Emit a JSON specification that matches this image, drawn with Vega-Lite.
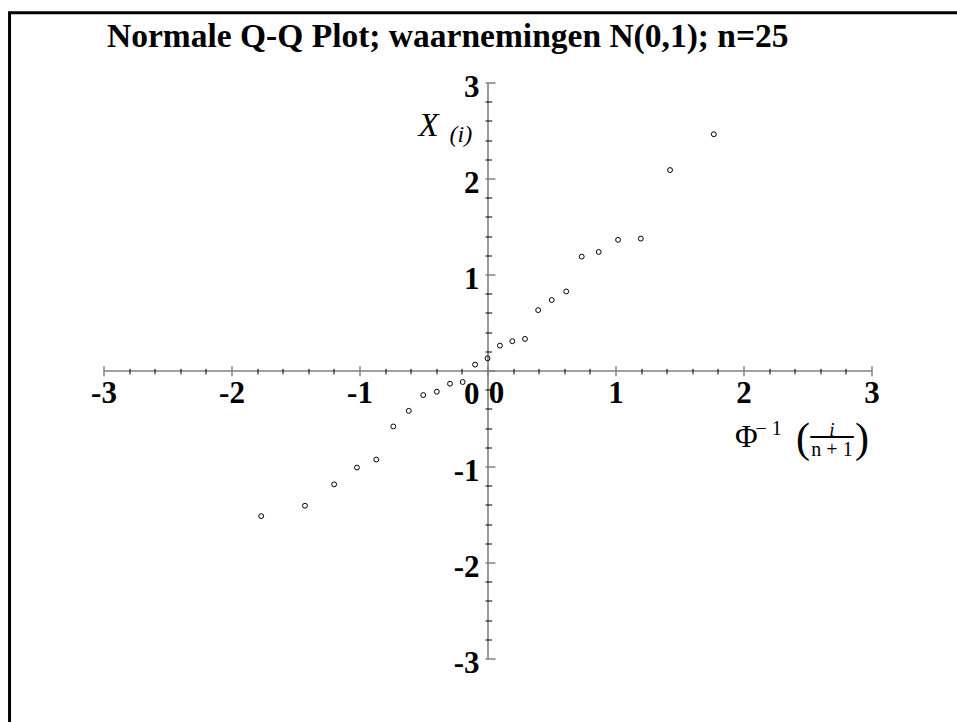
{
  "$schema": "https://vega.github.io/schema/vega-lite/v6.json",
  "width": 768,
  "height": 576,
  "autosize": {"type": "none"},
  "padding": {"left": 103.5, "top": 82.5, "right": 85.5, "bottom": 63.5},
  "background": "white",
  "title": {
    "text": "Normale Q-Q Plot; waarnemingen N(0,1); n=25",
    "font": "Liberation Serif",
    "fontSize": 33.5,
    "fontWeight": "bold",
    "color": "black",
    "anchor": "start",
    "frame": "group",
    "baseline": "alphabetic",
    "offset": 0,
    "dx": 3.5,
    "dy": 69.5
  },
  "config": {"view": {"stroke": null}, "axis": {"grid": false}},
  "data": {
    "values": [
      {"q": -1.768, "x": -1.517},
      {"q": -1.426, "x": -1.409},
      {"q": -1.198, "x": -1.186},
      {"q": -1.020, "x": -1.011},
      {"q": -0.869, "x": -0.928},
      {"q": -0.736, "x": -0.583},
      {"q": -0.615, "x": -0.420},
      {"q": -0.502, "x": -0.256},
      {"q": -0.396, "x": -0.221},
      {"q": -0.293, "x": -0.138},
      {"q": -0.194, "x": -0.120},
      {"q": -0.097, "x": 0.061},
      {"q": 0.0, "x": 0.127},
      {"q": 0.097, "x": 0.259},
      {"q": 0.194, "x": 0.305},
      {"q": 0.293, "x": 0.329},
      {"q": 0.396, "x": 0.629},
      {"q": 0.502, "x": 0.734},
      {"q": 0.615, "x": 0.823},
      {"q": 0.736, "x": 1.186},
      {"q": 0.869, "x": 1.235},
      {"q": 1.020, "x": 1.361},
      {"q": 1.198, "x": 1.374},
      {"q": 1.426, "x": 2.088},
      {"q": 1.768, "x": 2.461}
    ]
  },
  "resolve": {"axis": {"x": "independent", "y": "independent"}},
  "layer": [
    {
      "data": {"values": [{}]},
      "mark": {"type": "rect", "filled": false, "stroke": "black", "strokeWidth": 3},
      "encoding": {
        "x": {"datum": -3.734, "type": "quantitative", "scale": {"domain": [-3, 3], "nice": false, "zero": false},
          "axis": {"orient": "bottom", "offset": -288, "domain": false, "ticks": false, "labels": false, "grid": false,
            "title": ")", "titleFont": "Liberation Serif", "titleFontSize": 42, "titleFontWeight": "normal", "titleColor": "black",
            "titleAlign": "left", "titleBaseline": "alphabetic", "titleAngle": 0, "titleX": 751, "titleY": 80.5}},
        "x2": {"datum": 6},
        "y": {"datum": 3.726, "type": "quantitative", "scale": {"domain": [-3, 3], "nice": false, "zero": false}, "axis": null},
        "y2": {"datum": -6}
      }
    },
    {
      "mark": {"type": "point", "shape": "circle", "filled": false, "stroke": "black", "strokeWidth": 1, "size": 24, "opacity": 1},
      "encoding": {
        "x": {"field": "q", "type": "quantitative", "scale": {"domain": [-3, 3], "nice": false, "zero": false},
          "axis": {"orient": "bottom", "offset": -288, "values": [-3, -2, -1, 0, 1, 2, 3],
            "domain": true, "domainColor": "#808080", "domainWidth": 1.6, "ticks": false, "grid": false,
            "labels": true, "labelFont": "Liberation Serif", "labelFontSize": 31, "labelFontWeight": "bold", "labelColor": "black",
            "labelBaseline": "alphabetic", "labelPadding": 31.5, "labelAlign": "center",
            "labelOffset": {"condition": {"test": "datum.value === 0", "value": 8.5}, "value": 0},
            "labelFlush": false, "labelOverlap": false, "labelBound": false,
            "labelExpr": "datum.value < 0 ? '-' + (-datum.value) : '' + datum.value",
            "title": "Φ", "titleFont": "Liberation Serif", "titleFontSize": 31, "titleFontWeight": "normal", "titleColor": "black",
            "titleAlign": "left", "titleBaseline": "alphabetic", "titleAngle": 0, "titleX": 631, "titleY": 75.5}},
        "y": {"field": "x", "type": "quantitative", "scale": {"domain": [-3, 3], "nice": false, "zero": false},
          "axis": {"orient": "left", "offset": -384, "values": [-3, -2, -1, 0, 1, 2, 3],
            "domain": true, "domainColor": "#808080", "domainWidth": 1.6, "ticks": false, "grid": false,
            "labels": true, "labelFont": "Liberation Serif", "labelFontSize": 31, "labelFontWeight": "bold", "labelColor": "black",
            "labelBaseline": "alphabetic", "labelPadding": 8.5, "labelAlign": "right",
            "labelOffset": {"condition": {"test": "datum.value === 0", "value": 32.5}, "value": 13.5},
            "labelFlush": false, "labelOverlap": false, "labelBound": false,
            "labelExpr": "datum.value < 0 ? '-' + (-datum.value) : '' + datum.value",
            "title": "X", "titleFont": "Liberation Serif", "titleFontSize": 33, "titleFontStyle": "italic", "titleFontWeight": "normal", "titleColor": "black",
            "titleAlign": "left", "titleBaseline": "alphabetic", "titleAngle": 0, "titleX": -69.5, "titleY": 52.5}}
      }
    },
    {
      "mark": {"type": "point", "opacity": 0},
      "encoding": {
        "x": {"field": "q", "type": "quantitative", "scale": {"domain": [-3, 3], "nice": false, "zero": false},
          "axis": {"orient": "bottom", "offset": -290.2,
            "values": [-2.8, -2.6, -2.4, -2.2, -1.8, -1.6, -1.4, -1.2, -0.8, -0.6, -0.4, -0.2, 0.2, 0.4, 0.6, 0.8, 1.2, 1.4, 1.6, 1.8, 2.2, 2.4, 2.6, 2.8],
            "domain": false, "ticks": true, "tickSize": 5.7, "tickColor": "black", "tickWidth": 1, "labels": false, "grid": false,
            "title": "− 1", "titleFont": "Liberation Serif", "titleFontSize": 20, "titleFontWeight": "normal", "titleColor": "black",
            "titleAlign": "left", "titleBaseline": "alphabetic", "titleAngle": 0, "titleX": 651.5, "titleY": 66.2}},
        "y": {"field": "x", "type": "quantitative", "scale": {"domain": [-3, 3], "nice": false, "zero": false},
          "axis": {"orient": "left", "offset": -388.2,
            "values": [-2.8, -2.6, -2.4, -2.2, -1.8, -1.6, -1.4, -1.2, -0.8, -0.6, -0.4, -0.2, 0.2, 0.4, 0.6, 0.8, 1.2, 1.4, 1.6, 1.8, 2.2, 2.4, 2.6, 2.8],
            "domain": false, "ticks": true, "tickSize": 6.7, "tickColor": "black", "tickWidth": 1, "labels": false, "grid": false,
            "title": "(i)", "titleFont": "Liberation Serif", "titleFontSize": 24, "titleFontStyle": "italic", "titleFontWeight": "normal", "titleColor": "black",
            "titleAlign": "left", "titleBaseline": "alphabetic", "titleAngle": 0, "titleX": -42.7, "titleY": 58.5}}
      }
    },
    {
      "mark": {"type": "point", "opacity": 0},
      "encoding": {
        "x": {"field": "q", "type": "quantitative", "scale": {"domain": [-3, 3], "nice": false, "zero": false},
          "axis": {"orient": "bottom", "offset": -292.5, "values": [-3, -2, -1, 0, 1, 2, 3],
            "domain": false, "ticks": true, "tickSize": 9.7, "tickColor": "#808080", "tickWidth": 1.5, "labels": false, "grid": false,
            "title": "(", "titleFont": "Liberation Serif", "titleFontSize": 42, "titleFontWeight": "normal", "titleColor": "black",
            "titleAlign": "left", "titleBaseline": "alphabetic", "titleAngle": 0, "titleX": 692, "titleY": 85}},
        "y": {"field": "x", "type": "quantitative", "scale": {"domain": [-3, 3], "nice": false, "zero": false},
          "axis": {"orient": "left", "offset": -391.5, "values": [-3, -2, -1, 0, 1, 2, 3],
            "domain": false, "ticks": true, "tickSize": 10, "tickColor": "#808080", "tickWidth": 1.5, "labels": false, "grid": false,
            "title": null}}
      }
    },
    {
      "mark": {"type": "point", "opacity": 0},
      "encoding": {
        "x": {"field": "q", "type": "quantitative", "scale": {"domain": [-3, 3], "nice": false, "zero": false},
          "axis": {"orient": "bottom", "offset": -288, "domain": false, "ticks": false, "labels": false, "grid": false,
            "title": "i", "titleFont": "Liberation Serif", "titleFontSize": 19, "titleFontStyle": "italic", "titleFontWeight": "normal", "titleColor": "black",
            "titleAlign": "center", "titleBaseline": "alphabetic", "titleAngle": 0, "titleX": 728, "titleY": 64.5}},
        "y": {"field": "x", "type": "quantitative", "scale": {"domain": [-3, 3], "nice": false, "zero": false}, "axis": null}
      }
    },
    {
      "mark": {"type": "point", "opacity": 0},
      "encoding": {
        "x": {"field": "q", "type": "quantitative", "scale": {"domain": [-3, 3], "nice": false, "zero": false},
          "axis": {"orient": "bottom", "offset": -288, "domain": false, "ticks": false, "labels": false, "grid": false,
            "title": "—", "titleFont": "Liberation Serif", "titleFontSize": 43, "titleFontWeight": "normal", "titleColor": "black",
            "titleAlign": "center", "titleBaseline": "alphabetic", "titleAngle": 0, "titleX": 728, "titleY": 75.8}},
        "y": {"field": "x", "type": "quantitative", "scale": {"domain": [-3, 3], "nice": false, "zero": false}, "axis": null}
      }
    },
    {
      "mark": {"type": "point", "opacity": 0},
      "encoding": {
        "x": {"field": "q", "type": "quantitative", "scale": {"domain": [-3, 3], "nice": false, "zero": false},
          "axis": {"orient": "bottom", "offset": -288, "domain": false, "ticks": false, "labels": false, "grid": false,
            "title": "n + 1", "titleFont": "Liberation Serif", "titleFontSize": 20, "titleFontWeight": "normal", "titleColor": "black",
            "titleAlign": "center", "titleBaseline": "alphabetic", "titleAngle": 0, "titleX": 728, "titleY": 85}},
        "y": {"field": "x", "type": "quantitative", "scale": {"domain": [-3, 3], "nice": false, "zero": false}, "axis": null}
      }
    }
  ]
}
